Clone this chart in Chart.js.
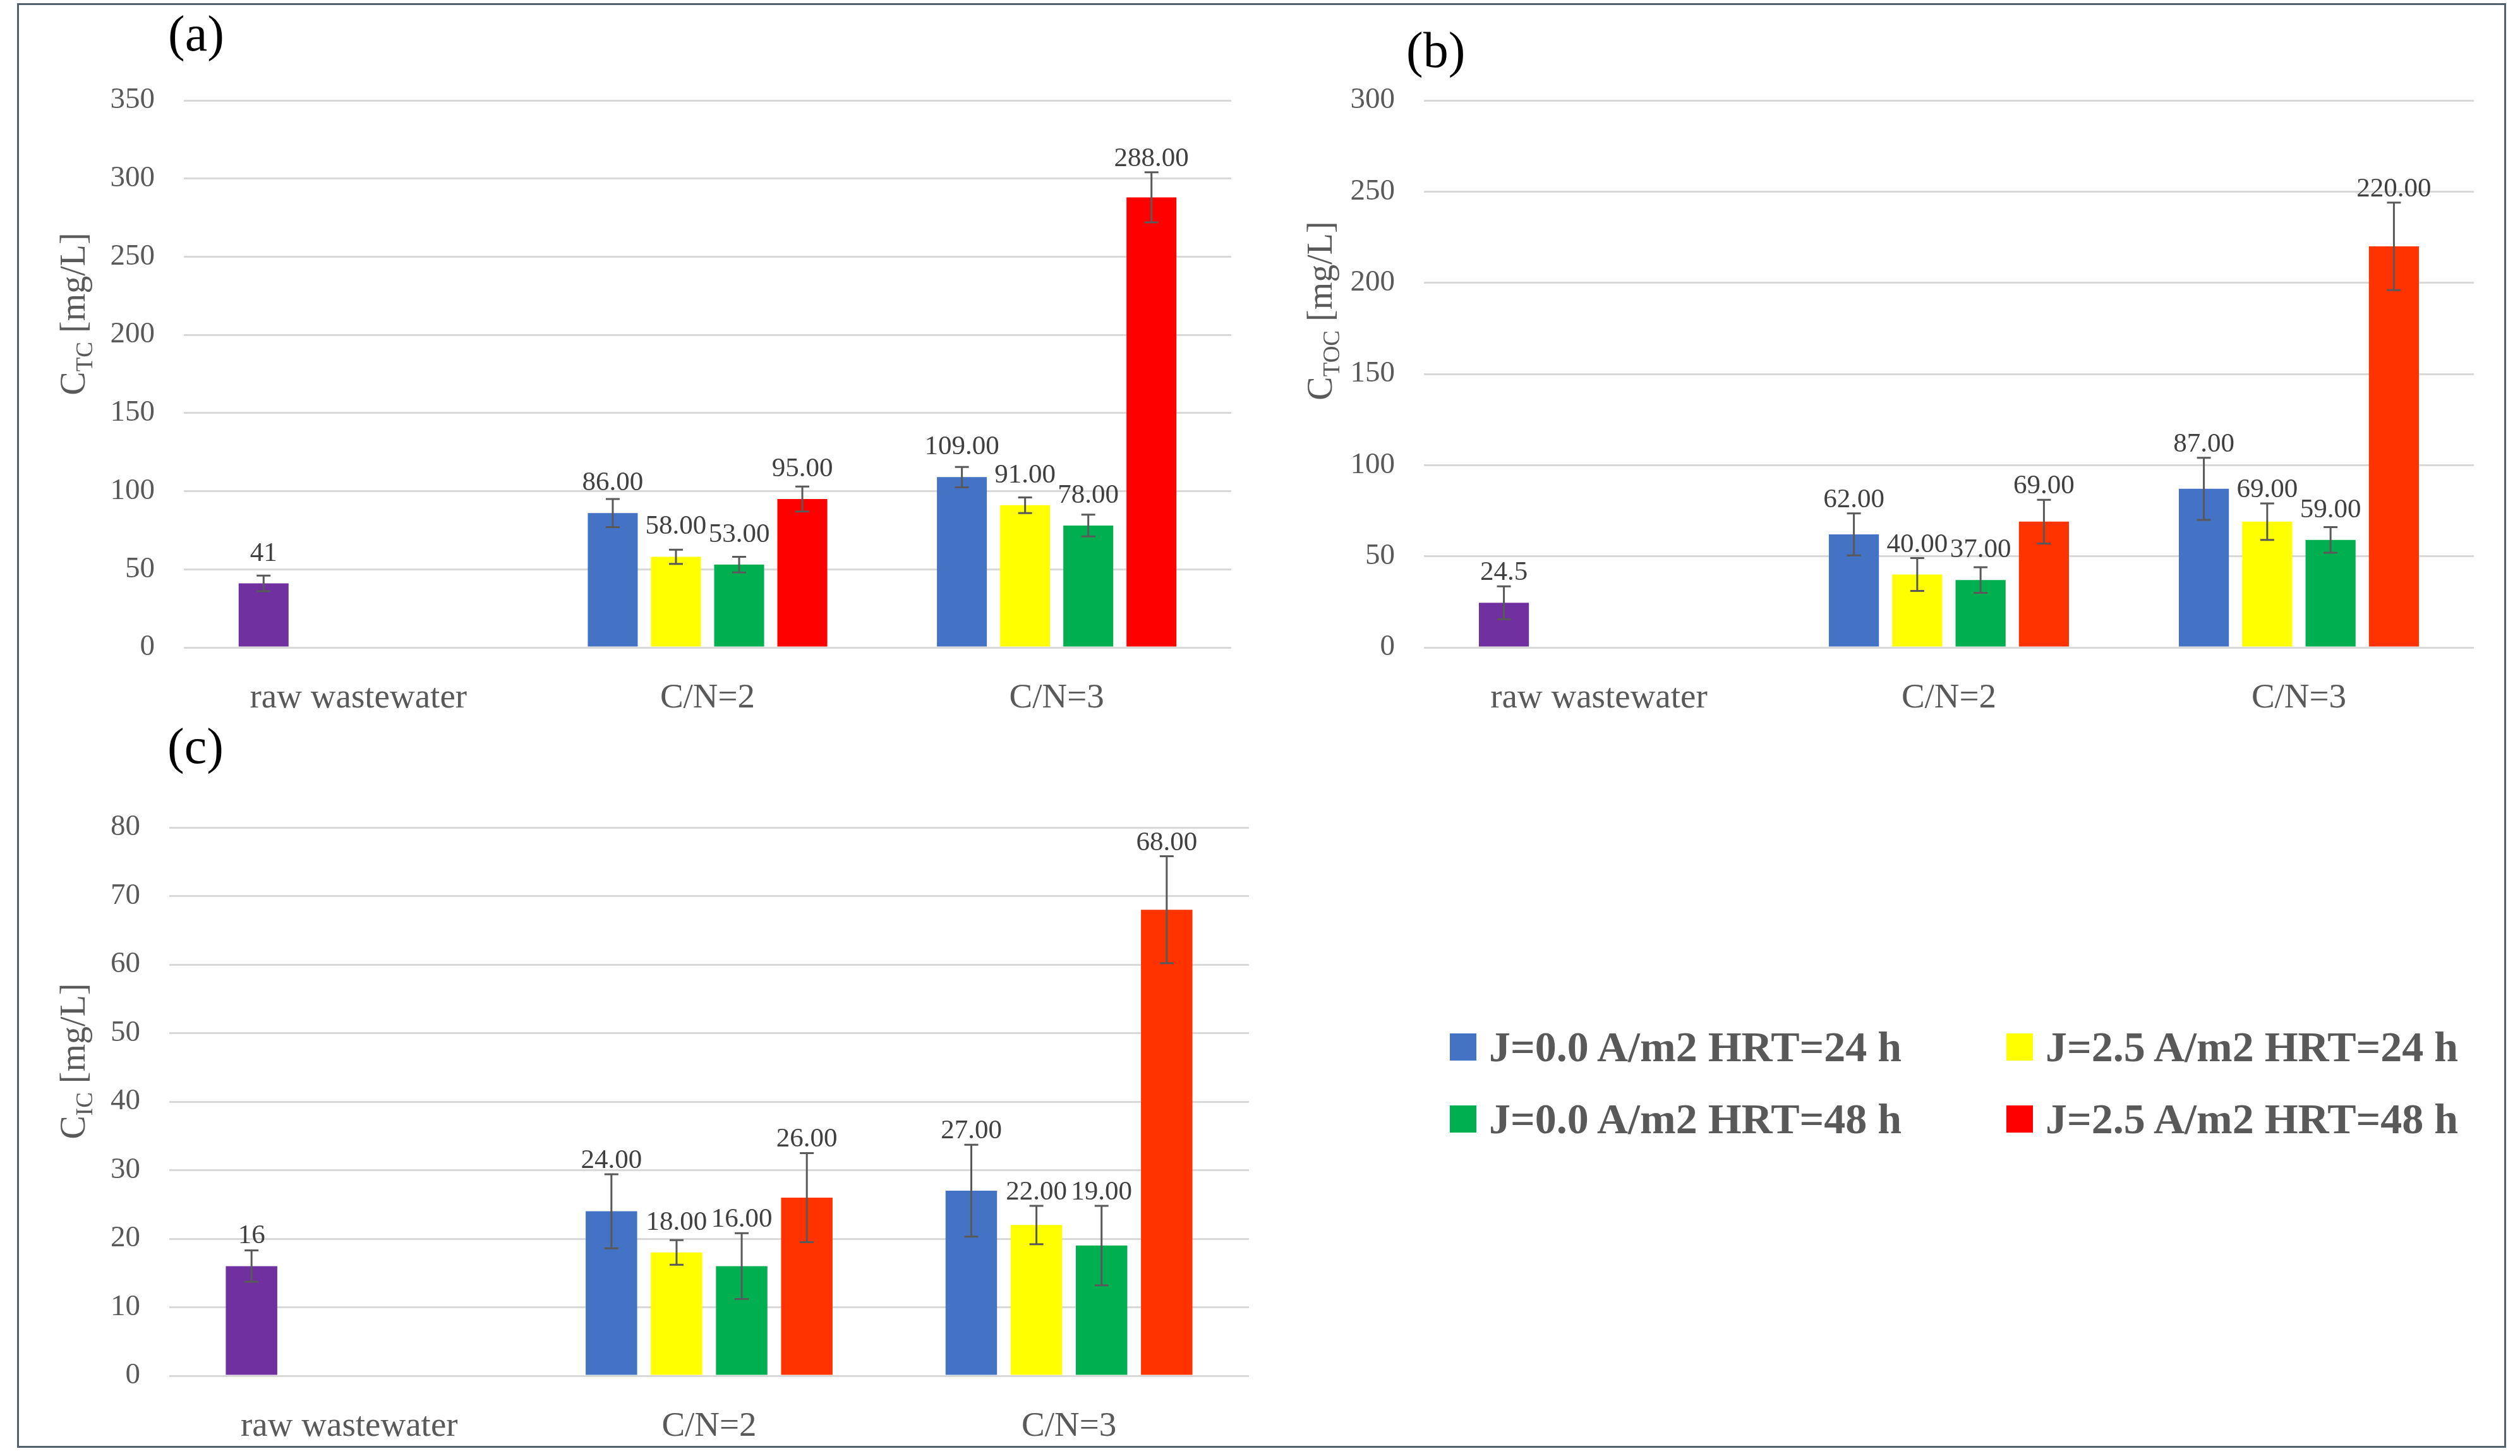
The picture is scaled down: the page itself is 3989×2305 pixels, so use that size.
<!DOCTYPE html>
<html>
<head>
<meta charset="utf-8">
<script src="https://cdn.jsdelivr.net/npm/chart.js@4.4.0/dist/chart.umd.min.js"></script>
<style>
  html, body { margin: 0; padding: 0; background: #fff; }
  body { width: 3989px; height: 2305px; position: relative; overflow: hidden; font-family: 'Liberation Serif', serif; }
  canvas { position: absolute; }
  #frame { position: absolute; left: 27px; top: 5px; width: 3934px; height: 2281px; border: 3px solid #52606e; }
  .lg { position: absolute; height: 60px; display: flex; align-items: center; font: bold 68px 'Liberation Serif', serif; color: #595959; white-space: nowrap; }
  .lg span.box { display: inline-block; width: 42px; height: 43px; margin-right: 20px; }
</style>
</head>
<body>
<div id="frame"></div>
<canvas id="chartA" width="1990" height="1150" style="left:0;top:0"></canvas>
<canvas id="chartB" width="1989" height="1150" style="left:2000px;top:0"></canvas>
<canvas id="chartC" width="2000" height="1155" style="left:0;top:1150px"></canvas>
<div id="legend"></div>
<script>
// Categorias e séries
const categories = ['raw wastewater', 'C/N=2', 'C/N=3'];
const seriesNames = ['J=0.0 A/m2 HRT=24 h', 'J=2.5 A/m2 HRT=24 h', 'J=0.0 A/m2 HRT=48 h', 'J=2.5 A/m2 HRT=48 h'];

// (a) TC
const tcS1 = [41, 86, 109];
const tcS2 = [null, 58, 91];
const tcS3 = [null, 53, 78];
const tcS4 = [null, 95, 288];
const tcE1 = [5, 9, 6.5];
const tcE2 = [null, 4.5, 5];
const tcE3 = [null, 5, 7];
const tcE4 = [null, 8, 16];
const tcTicks = [0, 50, 100, 150, 200, 250, 300, 350];

// (b) TOC
const tocS1 = [24.5, 62, 87];
const tocS2 = [null, 40, 69];
const tocS3 = [null, 37, 59];
const tocS4 = [null, 69, 220];
const tocE1 = [9, 11.5, 17];
const tocE2 = [null, 9, 10];
const tocE3 = [null, 7, 7];
const tocE4 = [null, 12, 24];
const tocTicks = [0, 50, 100, 150, 200, 250, 300];

// (c) IC
const icS1 = [16, 24, 27];
const icS2 = [null, 18, 22];
const icS3 = [null, 16, 19];
const icS4 = [null, 26, 68];
const icE1 = [2.3, 5.4, 6.7];
const icE2 = [null, 1.8, 2.8];
const icE3 = [null, 4.8, 5.8];
const icE4 = [null, 6.5, 7.8];
const icTicks = [0, 10, 20, 30, 40, 50, 60, 70, 80];

// Cores
const purple = '#7030A0';
const blue = '#4472C4';
const yellow = '#FFFF00';
const green = '#00B050';
const red = '#FF0000';
const orangeRed = '#FF3300';

// Plugin: barras de erro, rótulos, letra do painel e título do eixo
const decorPlugin = {
  id: 'decor',
  afterDatasetsDraw(chart, args, opts) {
    const ctx = chart.ctx;
    const y = chart.scales.y;
    chart.data.datasets.forEach((ds, i) => {
      const meta = chart.getDatasetMeta(i);
      meta.data.forEach((bar, j) => {
        const v = ds.data[j];
        if (v == null) return;
        const e = ds.errors[j];
        const top = y.getPixelForValue(v + e);
        const bot = y.getPixelForValue(v - e);
        ctx.save();
        ctx.strokeStyle = '#595959';
        ctx.lineWidth = 3;
        ctx.beginPath();
        ctx.moveTo(bar.x, top); ctx.lineTo(bar.x, bot);
        ctx.moveTo(bar.x - 11, top); ctx.lineTo(bar.x + 11, top);
        ctx.moveTo(bar.x - 11, bot); ctx.lineTo(bar.x + 11, bot);
        ctx.stroke();
        const txt = j === 0 ? String(v) : v.toFixed(2);
        ctx.font = '43px "Liberation Serif"';
        ctx.fillStyle = '#404040';
        ctx.textAlign = 'center';
        ctx.textBaseline = 'alphabetic';
        ctx.fillText(txt, bar.x, Math.min(bar.y - 36, top - 10));
        ctx.restore();
      });
    });
  },
  afterDraw(chart, args, opts) {
    const ctx = chart.ctx;
    ctx.save();
    // letra do painel
    ctx.font = '80px "Liberation Serif"';
    ctx.fillStyle = '#000';
    ctx.textAlign = 'left';
    ctx.textBaseline = 'alphabetic';
    ctx.fillText(opts.letter, opts.letterX, opts.letterY);
    // título do eixo Y com subscrito
    ctx.translate(opts.titleX, opts.titleY);
    ctx.rotate(-Math.PI / 2);
    ctx.fillStyle = '#595959';
    const big = '56px "Liberation Serif"';
    const small = '37px "Liberation Serif"';
    ctx.font = big;
    const w1 = ctx.measureText('C').width;
    const w3 = ctx.measureText(' [mg/L]').width;
    ctx.font = small;
    const w2 = ctx.measureText(opts.sub).width;
    let x0 = -(w1 + w2 + w3) / 2;
    ctx.font = big;
    ctx.fillText('C', x0, 19);
    ctx.font = small;
    ctx.fillText(opts.sub, x0 + w1, 31);
    ctx.font = big;
    ctx.fillText(' [mg/L]', x0 + w1 + w2, 19);
    ctx.restore();
  }
};

function makeChart(id, series, errors, colors, ticks, box, deco) {
  const datasets = series.map((s, i) => ({
    label: seriesNames[i],
    data: s,
    errors: errors[i],
    backgroundColor: colors[i],
    categoryPercentage: 0.724,
    barPercentage: 0.79
  }));
  return new Chart(document.getElementById(id).getContext('2d'), {
    type: 'bar',
    data: { labels: categories, datasets: datasets },
    plugins: [decorPlugin],
    options: {
      responsive: false,
      devicePixelRatio: 1,
      animation: false,
      layout: { padding: { left: 0, top: box.top, right: box.right, bottom: 0 } },
      plugins: {
        legend: { display: false },
        tooltip: { enabled: false },
        decor: deco
      },
      scales: {
        x: {
          grid: { display: false },
          border: { display: false },
          ticks: { color: '#595959', font: { family: 'Liberation Serif', size: 55 }, padding: 40 },
          afterFit: (axis) => { axis.height = box.xHeight; }
        },
        y: {
          min: ticks[0],
          max: ticks[ticks.length - 1],
          afterBuildTicks: (axis) => { axis.ticks = ticks.map(v => ({ value: v })); },
          grid: { color: '#d9d9d9', lineWidth: 3, drawTicks: false },
          border: { display: false },
          ticks: { color: '#595959', font: { family: 'Liberation Serif', size: 47 }, padding: 46 },
          afterFit: (axis) => { axis.width = box.yWidth; }
        }
      }
    }
  });
}

makeChart('chartA',
  [tcS1, tcS2, tcS3, tcS4],
  [tcE1, tcE2, tcE3, tcE4],
  [[purple, blue, blue], yellow, green, red],
  tcTicks,
  { top: 159, right: 41, yWidth: 291, xHeight: 125 },
  { letter: '(a)', letterX: 266, letterY: 80, titleX: 115, titleY: 497, sub: 'TC' });

makeChart('chartB',
  [tocS1, tocS2, tocS3, tocS4],
  [tocE1, tocE2, tocE3, tocE4],
  [[purple, blue, blue], yellow, green, orangeRed],
  tocTicks,
  { top: 159, right: 73, yWidth: 254, xHeight: 125 },
  { letter: '(b)', letterX: 226, letterY: 106, titleX: 89, titleY: 492, sub: 'TOC' });

makeChart('chartC',
  [icS1, icS2, icS3, icS4],
  [icE1, icE2, icE3, icE4],
  [[purple, blue, blue], yellow, green, orangeRed],
  icTicks,
  { top: 160, right: 23, yWidth: 268, xHeight: 127 },
  { letter: '(c)', letterX: 265, letterY: 58, titleX: 115, titleY: 530, sub: 'IC' });

// Legenda
const legendColors = [blue, yellow, green, red];
const legendPos = [[2295, 1627], [3176, 1627], [2295, 1741], [3176, 1741]];
const legendEl = document.getElementById('legend');
seriesNames.forEach((name, i) => {
  const item = document.createElement('div');
  item.className = 'lg';
  item.style.left = legendPos[i][0] + 'px';
  item.style.top = legendPos[i][1] + 'px';
  item.innerHTML = '<span class="box" style="background:' + legendColors[i] + '"></span>' + name;
  legendEl.appendChild(item);
});
</script>
</body>
</html>
